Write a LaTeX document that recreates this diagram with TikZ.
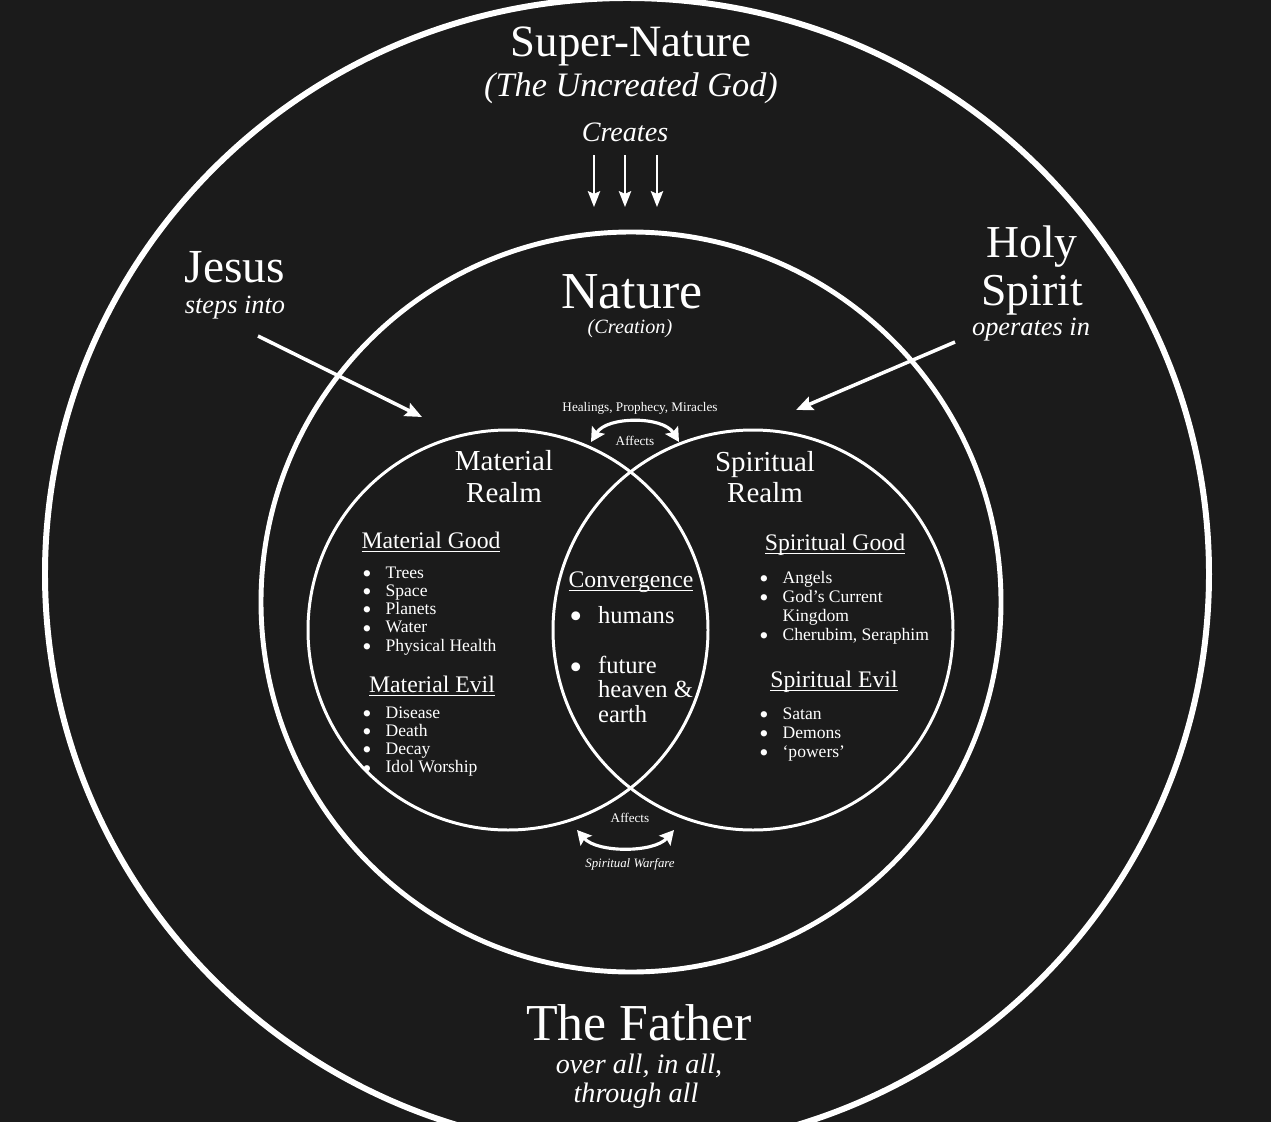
\documentclass[tikz,border=0pt]{standalone}
\usepackage{fontspec}
\setmainfont{Liberation Serif}
\usetikzlibrary{arrows.meta}

\definecolor{bgdark}{HTML}{1B1B1B}
% underline that crosses descenders
\newcommand{\hdul}[1]{\setbox0=\hbox{#1}\rlap{\rule[-2.4pt]{\wd0}{0.7pt}}\box0}
\newcommand{\blt}{\smash{\raisebox{-0.24em}{\scalebox{1.5}{\textbullet}}}}
\newcommand{\itemlist}[2][8pt]{\begin{tabular}[t]{@{}l@{\hspace{#1}}l@{}}#2\end{tabular}}

\begin{document}
\begin{tikzpicture}[
  x=0.02cm, y=-0.02cm,
  every node/.style={text=white, inner sep=0pt, anchor=base},
  ring/.style={draw=white, line width=#1},
  bigname/.style={font=\fontsize{27}{30}\selectfont},
  hugename/.style={font=\fontsize{29.5}{32}\selectfont},
  subname/.style={font=\fontsize{15}{17}\selectfont\itshape},
  realm/.style={font=\fontsize{16.5}{18}\selectfont},
  head/.style={font=\fontsize{13.5}{15}\selectfont},
  lst/.style={anchor=base west, font=\fontsize{10}{10.4}\selectfont},
  tiny/.style={font=\fontsize{7.5}{8}\selectfont},
  arr/.style={-{Stealth[length=9pt, width=7pt, inset=1.5pt]}, draw=white, line width=1.2pt},
  bigarr/.style={-{Stealth[length=9.5pt, width=8pt, inset=1.5pt]}, draw=white, line width=2pt},
  affarr/.style={{Stealth[length=8pt, width=8.5pt, inset=1.4pt]}-{Stealth[length=8pt, width=8.5pt, inset=1.4pt]}, draw=white, line width=1.8pt}
]
\useasboundingbox (0,0) rectangle (1271,1122);
\fill[bgdark] (0,0) rectangle (1271,1122);
\clip (0,0) rectangle (1271,1122);

% rings
\draw[ring=3.4pt] (627,574) ellipse [x radius=582, y radius=576];
\draw[ring=2.8pt] (631,602) circle [radius=370];
\draw[ring=1.7pt] (508,630) circle [radius=200];
\draw[ring=1.7pt] (753,630) circle [radius=200];

% super-nature
\node[font=\fontsize{25.5}{28}\selectfont] (super) at (631,57) {Super-Nature};
\node[font=\fontsize{19.5}{22}\selectfont\itshape] (uncreated) at (631,97) {(The Uncreated God)};
\node[font=\fontsize{16}{18}\selectfont\itshape] (creates) at (625,141) {Creates};
\foreach \x [count=\i] in {594,625,657} {
  \coordinate (cr\i a) at (\x,155);
  \coordinate (cr\i b) at (\x,207);
  \draw[arr] (cr\i a) -- (cr\i b);
}

% nature
\node[hugename] (nature) at (632,308) {Nature};
\node[font=\fontsize{11.5}{13}\selectfont\itshape] (creation) at (630,333) {(Creation)};

% jesus
\node[bigname] (jesus) at (235,282) {Jesus};
\node[subname] (steps) at (235,313) {steps into};
\coordinate (jsA) at (258,336);
\coordinate (jsB) at (422,417);
\draw[bigarr] (jsA) -- (jsB);

% holy spirit
\node[font=\fontsize{26}{28}\selectfont] (holy) at (1032,257) {Holy};
\node[font=\fontsize{26}{28}\selectfont] (spirit) at (1032,305) {Spirit};
\node[subname] (operates) at (1031,335) {operates in};
\coordinate (hsA) at (955,342);
\coordinate (hsB) at (796,410);
\draw[bigarr] (hsA) -- (hsB);

% affects (top)
\node[tiny] (heal) at (640,411) {Healings, Prophecy, Miracles};
\node[tiny] (afftop) at (635,445) {Affects};
\coordinate (atL) at (591,442);
\coordinate (atR) at (679,442);
\draw[affarr] (atL) .. controls (607,416) and (663,416) .. (atR);

% affects (bottom)
\node[tiny] (affbot) at (630,822) {Affects};
\node[font=\fontsize{7.3}{8}\selectfont\itshape] (warfare) at (630,867) {Spiritual Warfare};
\coordinate (abL) at (577,830);
\coordinate (abR) at (674,830);
\draw[affarr] (abL) .. controls (597,853) and (654,853) .. (abR);

% material realm
\node[realm] (mat1) at (504,470) {Material};
\node[realm] (mat2) at (504,502) {Realm};
\node[head] (mgood) at (431,548) {\hdul{Material Good}};
\node[lst] (mgoodl) at (362,578) {\itemlist{%
  \blt & Trees\\ \blt & Space\\ \blt & Planets\\
  \blt & Water\\ \blt & Physical Health}};
\node[head] (mevil) at (432,692) {\hdul{Material Evil}};
\node[lst] (mevill) at (362,718) {\itemlist{%
  \blt & Disease\\ \blt & Death\\ \blt & Decay\\
  \blt & Idol Worship}};

% spiritual realm
\node[realm] (spi1) at (765,471) {Spiritual};
\node[realm] (spi2) at (765,502) {Realm};
\node[head] (sgood) at (835,550) {\hdul{Spiritual Good}};
\node[lst, font=\fontsize{10}{10.9}\selectfont] (sgoodl) at (759,583) {\itemlist{%
  \blt & Angels\\ \blt & God’s Current\\ & Kingdom\\
  \blt & Cherubim, Seraphim}};
\node[head] (sevil) at (834,687) {\hdul{Spiritual Evil}};
\node[lst, font=\fontsize{10}{10.9}\selectfont] (sevill) at (759,719) {\itemlist{%
  \blt & Satan\\ \blt & Demons\\ \blt & ‘powers’}};

% convergence
\node[head] (conv) at (631,587) {\hdul{Convergence}};
\node[lst, font=\fontsize{14}{13.4}\selectfont] (convl) at (569,623) {\itemlist[9pt]{%
  \blt & humans\\[15pt] \blt & future\\ & heaven \&\\ & earth}};

% the father
\node[hugename] (father) at (639,1040) {The Father};
\node[font=\fontsize{16}{18}\selectfont\itshape] (over) at (639,1073) {over all, in all,};
\node[font=\fontsize{16}{18}\selectfont\itshape] (through) at (636,1102) {through all};
\end{tikzpicture}
\end{document}
